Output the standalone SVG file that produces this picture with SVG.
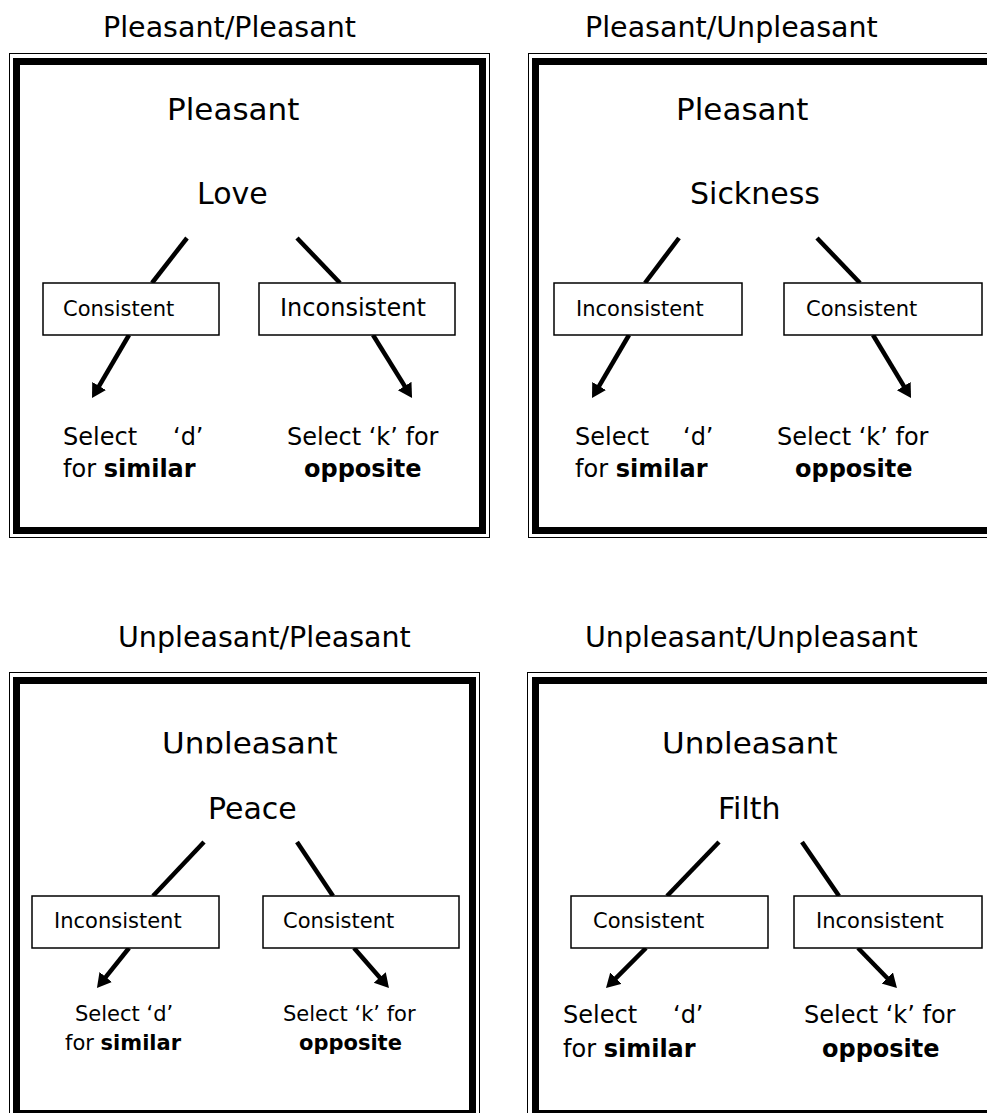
<svg xmlns="http://www.w3.org/2000/svg" width="987" height="1113" viewBox="0 0 987 1113">
<style>
text{font-family:Verdana,"DejaVu Sans",sans-serif;fill:#000}
.title{font-size:28.5px}
.cat{font-size:31px}
.word{font-size:30px}
.box{fill:#fff;stroke:#000;stroke-width:1.5}
.bt{font-size:21px}
.bt24{font-size:24px}
.sel{font-size:24px}
.sel21{font-size:21px}
.b{font-weight:bold}
.thin{fill:none;stroke:#000;stroke-width:1}
.thick{fill:none;stroke:#000;stroke-width:7}
.line{stroke:#000;stroke-width:4.5;fill:none}
.arrow{stroke:#000;stroke-width:4.5;fill:none;marker-end:url(#ah)}
</style>
<defs>
<marker id="ah" markerUnits="userSpaceOnUse" markerWidth="16" markerHeight="18" refX="1" refY="8" orient="auto">
<path d="M0,0 L14,8 L0,16 z" fill="#000"/>
</marker>
<clipPath id="clip3"><rect x="0" y="700" width="987" height="53.5"/></clipPath>
</defs>
<rect width="987" height="1113" fill="#fff"/>

<g id="titles">
<text class="title" x="103" y="37">Pleasant/Pleasant</text>
<text class="title" x="585" y="37">Pleasant/Unpleasant</text>
<text class="title" x="118" y="647">Unpleasant/Pleasant</text>
<text class="title" x="585" y="647">Unpleasant/Unpleasant</text>
</g>

<g id="frames">
<rect class="thin" x="9.5" y="53.5" width="480" height="484"/>
<rect class="thick" x="16.5" y="61.5" width="466" height="469"/>
<rect class="thin" x="528.5" y="53.5" width="480" height="484"/>
<rect class="thick" x="535.5" y="61.5" width="466" height="469"/>
<rect class="thin" x="9.5" y="672.5" width="470" height="460"/>
<rect class="thick" x="16.5" y="680.5" width="456" height="433"/>
<rect class="thin" x="527.5" y="672.5" width="480" height="460"/>
<rect class="thick" x="535.5" y="680.5" width="466" height="433"/>
</g>

<g id="connectors">
<line class="line" x1="187" y1="238" x2="152" y2="283"/>
<line class="line" x1="297" y1="238" x2="340" y2="283"/>
<line class="arrow" x1="129" y1="335" x2="98.6" y2="386.8"/>
<line class="arrow" x1="373" y1="335" x2="405.2" y2="386.9"/>

<line class="line" x1="679" y1="238" x2="645" y2="283"/>
<line class="line" x1="817" y1="238" x2="860" y2="283"/>
<line class="arrow" x1="629" y1="335" x2="598.6" y2="386.8"/>
<line class="arrow" x1="873" y1="335" x2="904.3" y2="386.9"/>

<line class="line" x1="204" y1="842" x2="153" y2="896"/>
<line class="line" x1="297" y1="842" x2="333" y2="896"/>
<line class="arrow" x1="129" y1="948" x2="105.1" y2="977.8"/>
<line class="arrow" x1="354" y1="948" x2="380.4" y2="978.2"/>

<line class="line" x1="719" y1="842" x2="667" y2="896"/>
<line class="line" x1="802" y1="842" x2="839" y2="896"/>
<line class="arrow" x1="646" y1="948" x2="615.2" y2="978.8"/>
<line class="arrow" x1="858" y1="948" x2="887.9" y2="978.7"/>
</g>

<g id="panel1">
<text class="cat" x="167" y="120">Pleasant</text>
<g id="love"><text class="word" x="197" y="204">Love</text></g>
<g id="p1-left"><rect class="box" x="43" y="283" width="176" height="52"/><text class="bt" x="63" y="316">Consistent</text></g>
<g id="p1-right"><rect class="box" x="259" y="283" width="196" height="52"/><text class="bt24" x="280" y="316">Inconsistent</text></g>
<g id="p1-d"><text class="sel" x="63" y="445">Select<tspan x="173">‘d’</tspan></text><text class="sel" x="63" y="477">for <tspan class="b">similar</tspan></text></g>
<g id="p1-k"><text class="sel" x="287" y="445">Select ‘k’ for</text><text class="sel b" x="304" y="477">opposite</text></g>
</g>

<g id="panel2">
<text class="cat" x="676" y="120">Pleasant</text>
<g id="sickness"><text class="word" x="690" y="204">Sickness</text></g>
<g id="p2-left"><rect class="box" x="554" y="283" width="188" height="52"/><text class="bt" x="576" y="316">Inconsistent</text></g>
<g id="p2-right"><rect class="box" x="784" y="283" width="198" height="52"/><text class="bt" x="806" y="316">Consistent</text></g>
<g id="p2-d"><text class="sel" x="575" y="445">Select<tspan x="683">‘d’</tspan></text><text class="sel" x="575" y="477">for <tspan class="b">similar</tspan></text></g>
<g id="p2-k"><text class="sel" x="777" y="445">Select ‘k’ for</text><text class="sel b" x="795" y="477">opposite</text></g>
</g>

<g id="panel3">
<text class="cat" x="162" y="754" clip-path="url(#clip3)">Unpleasant</text>
<g id="peace"><text class="word" x="208" y="819">Peace</text></g>
<g id="p3-left"><rect class="box" x="32" y="896" width="187" height="52"/><text class="bt" x="54" y="928">Inconsistent</text></g>
<g id="p3-right"><rect class="box" x="263" y="896" width="196" height="52"/><text class="bt" x="283" y="928">Consistent</text></g>
<g id="p3-d"><text class="sel21" x="75" y="1021">Select ‘d’</text><text class="sel21" x="65" y="1050">for <tspan class="b">similar</tspan></text></g>
<g id="p3-k"><text class="sel21" x="283" y="1021">Select ‘k’ for</text><text class="sel21 b" x="299" y="1050">opposite</text></g>
</g>

<g id="panel4">
<text class="cat" x="662" y="754" clip-path="url(#clip3)">Unpleasant</text>
<g id="filth"><text class="word" x="718" y="819">Filth</text></g>
<g id="p4-left"><rect class="box" x="571" y="896" width="197" height="52"/><text class="bt" x="593" y="928">Consistent</text></g>
<g id="p4-right"><rect class="box" x="794" y="896" width="188" height="52"/><text class="bt" x="816" y="928">Inconsistent</text></g>
<g id="p4-d"><text class="sel" x="563" y="1023">Select<tspan x="673">‘d’</tspan></text><text class="sel" x="563" y="1057">for <tspan class="b">similar</tspan></text></g>
<g id="p4-k"><text class="sel" x="804" y="1023">Select ‘k’ for</text><text class="sel b" x="822" y="1057">opposite</text></g>
</g>
</svg>
